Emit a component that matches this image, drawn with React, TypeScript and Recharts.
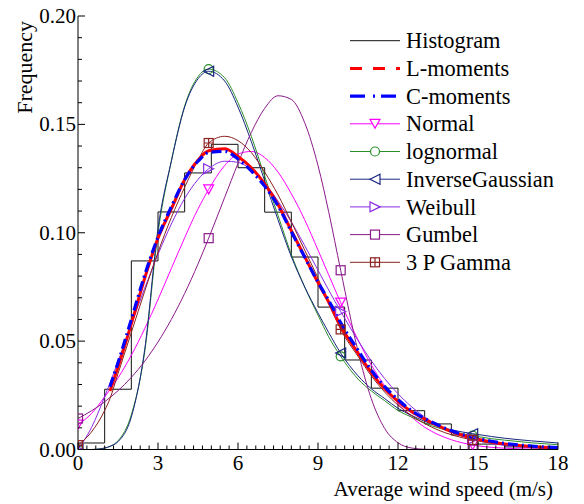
import React from "react";
import { LineChart, Line, XAxis, YAxis, Legend } from "recharts";

const X_VALUES = [
  0, 0.5, 1, 1.2, 1.5, 2, 2.5, 3, 3.5, 4, 4.5, 4.9, 5.5, 6, 6.5, 7, 7.5, 8,
  8.5, 9, 9.4, 9.85, 10.5, 11, 11.5, 12, 12.5, 13, 13.5, 14, 14.8, 15.5, 16, 17, 18,
];

const L_MOMENTS = [
  null, null, null, 0.027, 0.038, 0.058, 0.079, 0.0975, 0.111, 0.1245, 0.1335, 0.1378,
  0.1387, 0.1352, 0.13, 0.1225, 0.113, 0.101, 0.089, 0.077, 0.068, 0.057, 0.0445,
  0.0355, 0.028, 0.0222, 0.0175, 0.014, 0.011, 0.0083, 0.0053, 0.0035, 0.0026, 0.0014, 0.0008,
];
const C_MOMENTS = [
  null, null, null, 0.029, 0.04, 0.06, 0.0805, 0.098, 0.112, 0.1245, 0.133, 0.137,
  0.1376, 0.134, 0.1285, 0.1215, 0.1125, 0.1005, 0.0888, 0.0772, 0.0688, 0.0585, 0.0458,
  0.0366, 0.029, 0.023, 0.018, 0.0143, 0.0113, 0.0086, 0.0056, 0.0038, 0.0028, 0.0016, 0.0009,
];
const NORMAL = [
  0.0115, 0.0165, 0.0243, 0.0276, 0.033, 0.0435, 0.0557, 0.0692, 0.0835, 0.0977, 0.111,
  0.12, 0.131, 0.1363, 0.1375, 0.1347, 0.128, 0.118, 0.106, 0.092, 0.0806, 0.0678, 0.0506,
  0.039, 0.0293, 0.0213, 0.0151, 0.0103, 0.0069, 0.0045, 0.0021, 0.001, 0.0006, 0.0002, 0.0001,
];
const LOGNORMAL = [
  0, 0, 0.0006, 0.0014, 0.004, 0.016, 0.045, 0.1, 0.133, 0.1585, 0.172, 0.1755, 0.1715,
  0.16, 0.1445, 0.126, 0.108, 0.09, 0.075, 0.062, 0.052, 0.043, 0.0325, 0.027, 0.0225,
  0.018, 0.015, 0.0122, 0.01, 0.0083, 0.0064, 0.005, 0.0043, 0.0031, 0.0022,
];
const INV_GAUSSIAN = [
  0, 0, 0.0007, 0.0015, 0.0036, 0.015, 0.046, 0.102, 0.133, 0.158, 0.171, 0.1745, 0.17,
  0.158, 0.142, 0.124, 0.106, 0.089, 0.075, 0.063, 0.054, 0.0445, 0.034, 0.028, 0.0235,
  0.019, 0.0158, 0.013, 0.0108, 0.0091, 0.0073, 0.006, 0.0052, 0.004, 0.003,
];
const WEIBULL = [
  0, 0.01, 0.0244, 0.0307, 0.0406, 0.0576, 0.0744, 0.09, 0.104, 0.1158, 0.1246, 0.1295,
  0.133, 0.1325, 0.129, 0.1229, 0.1146, 0.105, 0.0941, 0.0827, 0.0736, 0.0637, 0.0503,
  0.0409, 0.0327, 0.0257, 0.0198, 0.015, 0.0111, 0.0081, 0.0047, 0.0028, 0.0018, 0.0008, 0.0003,
];
const GUMBEL = [
  0.0143, 0.0178, 0.022, 0.024, 0.0271, 0.0333, 0.0407, 0.0496, 0.06, 0.072, 0.0856,
  0.0975, 0.1163, 0.132, 0.1463, 0.1574, 0.1632, 0.1615, 0.1508, 0.131, 0.1097, 0.0827,
  0.0453, 0.0234, 0.0097, 0.0031, 0.0007, 0.0001, 0, 0, 0, 0, 0, 0, 0,
];
const GAMMA_3P = [
  0.002, 0.008, 0.018, 0.0235, 0.035, 0.054, 0.073, 0.091, 0.107, 0.121, 0.1335, 0.1414,
  0.1445, 0.1425, 0.137, 0.128, 0.1175, 0.105, 0.092, 0.079, 0.0675, 0.0554, 0.043, 0.034,
  0.0265, 0.0205, 0.0157, 0.012, 0.009, 0.0068, 0.0044, 0.003, 0.0022, 0.0012, 0.0006,
];

// histogram: bin edges and frequency of each 1 m/s bin
const HIST_EDGES = [0, 1, 2, 3, 4, 5, 6, 7, 8, 9, 10, 11, 12, 13, 14, 15, 16, 17, 18];
const HIST_FREQ = [
  0.003, 0.0278, 0.087, 0.1096, 0.1276, 0.1408, 0.13, 0.1095, 0.0888, 0.0657, 0.0413,
  0.0283, 0.0179, 0.0118, 0.0067, 0.0025, 0.0012, 0.0008,
];

const MARKER_X = [0, 4.9, 9.85, 14.8];
const X_MAJOR = [0, 3, 6, 9, 12, 15, 18];
const Y_MAJOR = [0, 0.05, 0.1, 0.15, 0.2];

const X_TICKS = Array.from({ length: 55 }, (_, i) => Math.round((i / 3) * 1000) / 1000);
const Y_TICKS = Array.from({ length: 21 }, (_, i) => i / 100);

const FONT = "Liberation Serif, DejaVu Serif, Times New Roman, serif";

const rows = X_VALUES.map((x, i) => ({
  x,
  lmom: L_MOMENTS[i],
  cmom: C_MOMENTS[i],
  normal: NORMAL[i],
  lognormal: LOGNORMAL[i],
  invgauss: INV_GAUSSIAN[i],
  weibull: WEIBULL[i],
  gumbel: GUMBEL[i],
  gamma: GAMMA_3P[i],
}));

const histRows = HIST_EDGES.map((x, i) => ({
  x,
  hist: HIST_FREQ[Math.min(i, HIST_FREQ.length - 1)],
}));

type MarkerKind = "triDown" | "circle" | "triLeft" | "triRight" | "square" | "squareCross" | null;

interface SeriesStyle {
  key: string;
  name: string;
  color: string;
  width: number;
  dash?: string;
  legendDash?: string;
  marker: MarkerKind;
}

const SERIES: SeriesStyle[] = [
  { key: "hist", name: "Histogram", color: "#111111", width: 1, marker: null },
  { key: "lmom", name: "L-moments", color: "#ff0000", width: 3, legendDash: "12 11", marker: null },
  { key: "cmom", name: "C-moments", color: "#0000ff", width: 3.2, dash: "10 4 2 4", legendDash: "15 8 2 6", marker: null },
  { key: "normal", name: "Normal", color: "#ff00ff", width: 1, marker: "triDown" },
  { key: "lognormal", name: "lognormal", color: "#2a8f2a", width: 1, marker: "circle" },
  { key: "invgauss", name: "InverseGaussian", color: "#1a2580", width: 1, marker: "triLeft" },
  { key: "weibull", name: "Weibull", color: "#8a2be2", width: 1, marker: "triRight" },
  { key: "gumbel", name: "Gumbel", color: "#8b1a8b", width: 1, marker: "square" },
  { key: "gamma", name: "3 P Gamma", color: "#8b2020", width: 1, marker: "squareCross" },
];

const Marker = ({ kind, x, y, color, fill }: { kind: MarkerKind; x: number; y: number; color: string; fill: string }) => {
  const common = { stroke: color, strokeWidth: 1.2, fill };
  switch (kind) {
    case "triDown":
      return <polygon points={`${x - 5},${y - 4.5} ${x + 5},${y - 4.5} ${x},${y + 4.5}`} {...common} />;
    case "circle":
      return <circle cx={x} cy={y} r={4.5} {...common} />;
    case "triLeft":
      return <polygon points={`${x - 5},${y} ${x + 5},${y - 5} ${x + 5},${y + 5}`} {...common} />;
    case "triRight":
      return <polygon points={`${x + 5},${y} ${x - 5},${y - 5} ${x - 5},${y + 5}`} {...common} />;
    case "square":
      return <rect x={x - 4.5} y={y - 4.5} width={9} height={9} {...common} />;
    case "squareCross":
      return (
        <g>
          <rect x={x - 4.5} y={y - 4.5} width={9} height={9} {...common} />
          <line x1={x} x2={x} y1={y - 4.5} y2={y + 4.5} stroke={color} strokeWidth={1.2} />
          <line x1={x - 4.5} x2={x + 4.5} y1={y} y2={y} stroke={color} strokeWidth={1.2} />
        </g>
      );
    default:
      return null;
  }
};

const markerDot = (s: SeriesStyle) => (props: any) => {
  const { cx, cy, payload, index } = props;
  if (cx == null || cy == null || !MARKER_X.includes(payload.x)) return <g key={`${s.key}-${index}`} />;
  return (
    <g key={`${s.key}-${index}`}>
      <Marker kind={s.marker} x={cx} y={cy} color={s.color} fill="none" />
    </g>
  );
};

const isMajorX = (v: number) => X_MAJOR.some((m) => Math.abs(m - v) < 1e-6);
const isMajorY = (v: number) => Y_MAJOR.some((m) => Math.abs(m - v) < 1e-6);

const BottomTick = (p: any) => {
  const v = p.payload.value;
  const major = isMajorX(v);
  return (
    <g>
      <line x1={p.x} x2={p.x} y1={p.y} y2={p.y - (major ? 7 : 4)} stroke="#000" />
      {major && (
        <text x={p.x} y={p.y + 20} textAnchor="middle" fontFamily={FONT} fontSize={21} fill="#000">
          {v}
        </text>
      )}
    </g>
  );
};

const TopTick = (p: any) => {
  const major = isMajorX(p.payload.value);
  return <line x1={p.x} x2={p.x} y1={p.y} y2={p.y + (major ? 7 : 4)} stroke="#000" />;
};

const LeftTick = (p: any) => {
  const v = p.payload.value;
  const major = isMajorY(v);
  return (
    <g>
      <line x1={p.x} x2={p.x + (major ? 7 : 4)} y1={p.y} y2={p.y} stroke="#000" />
      {major && (
        <text x={p.x - 2} y={p.y + 7} textAnchor="end" fontFamily={FONT} fontSize={21} fill="#000">
          {v.toFixed(2)}
        </text>
      )}
    </g>
  );
};

const RightTick = (p: any) => {
  const major = isMajorY(p.payload.value);
  return <line x1={p.x} x2={p.x - (major ? 7 : 4)} y1={p.y} y2={p.y} stroke="#000" />;
};

const XTitle = () => (
  <text x={553} y={496} textAnchor="end" fontFamily={FONT} fontSize={21} fill="#000">
    Average wind speed (m/s)
  </text>
);

const YTitle = () => (
  <text x={32} y={21} textAnchor="end" transform="rotate(-90, 32, 21)" fontFamily={FONT} fontSize={22} fill="#000">
    Frequency
  </text>
);

const LegendBox = () => (
  <svg width={240} height={260} style={{ display: "block", overflow: "visible" }}>
    {SERIES.map((s, i) => {
      const ly = 20.7 + 27.7 * i;
      return (
        <g key={s.key}>
          <line
            x1={10}
            x2={60}
            y1={ly}
            y2={ly}
            stroke={s.color}
            strokeWidth={s.width}
            strokeDasharray={s.legendDash}
          />
          {s.marker && <Marker kind={s.marker} x={35} y={ly} color={s.color} fill="#fff" />}
          <text x={66} y={28.3 + 27.7 * i} fontFamily={FONT} fontSize={22.4} fill="#000">
            {s.name}
          </text>
        </g>
      );
    })}
  </svg>
);

const drawOrder = ["normal", "lognormal", "invgauss", "weibull", "gumbel", "gamma", "lmom", "cmom"];

export default function App() {
  return (
    <div style={{ width: 584, height: 504, background: "#fff", fontFamily: FONT }}>
      <style>{"body{margin:0;background:#fff}"}</style>
      <LineChart width={584} height={504} data={rows} margin={{ top: 16, right: 26, bottom: 0, left: 0 }}>
        <XAxis
          dataKey="x"
          type="number"
          domain={[0, 18]}
          allowDataOverflow
          ticks={X_TICKS}
          interval={0}
          tickSize={0}
          tickMargin={0}
          tickLine={false}
          height={54.5}
          stroke="#000"
          tick={BottomTick}
          label={<XTitle />}
        />
        <XAxis
          xAxisId="top"
          orientation="top"
          dataKey="x"
          type="number"
          domain={[0, 18]}
          allowDataOverflow
          ticks={X_TICKS}
          interval={0}
          tickSize={0}
          tickMargin={0}
          tickLine={false}
          height={0}
          stroke="#000"
          tick={TopTick}
        />
        <YAxis
          type="number"
          domain={[0, 0.2]}
          allowDataOverflow
          ticks={Y_TICKS}
          interval={0}
          tickSize={0}
          tickMargin={0}
          tickLine={false}
          width={78}
          stroke="#000"
          tick={LeftTick}
          label={<YTitle />}
        />
        <YAxis
          yAxisId="right"
          orientation="right"
          type="number"
          domain={[0, 0.2]}
          allowDataOverflow
          ticks={Y_TICKS}
          interval={0}
          tickSize={0}
          tickMargin={0}
          tickLine={false}
          width={0}
          stroke="#000"
          tick={RightTick}
        />
        <Legend
          layout="horizontal"
          verticalAlign="middle"
          align="center"
          wrapperStyle={{ position: "absolute", left: 340, top: 20, width: 240, height: 260 }}
          content={() => <LegendBox />}
        />
        <Line
          data={histRows}
          dataKey="hist"
          type="stepAfter"
          stroke="#111111"
          strokeWidth={1}
          dot={false}
          isAnimationActive={false}
        />
        {drawOrder.map((key) => {
          const s = SERIES.find((item) => item.key === key)!;
          const onFrame = key === "gumbel";
          return (
            <Line
              key={key}
              dataKey={key}
              type="monotone"
              xAxisId={onFrame ? "top" : 0}
              yAxisId={onFrame ? "right" : 0}
              stroke={s.color}
              strokeWidth={s.width}
              strokeDasharray={s.dash}
              dot={s.marker ? markerDot(s) : false}
              activeDot={false}
              isAnimationActive={false}
            />
          );
        })}
      </LineChart>
    </div>
  );
}
